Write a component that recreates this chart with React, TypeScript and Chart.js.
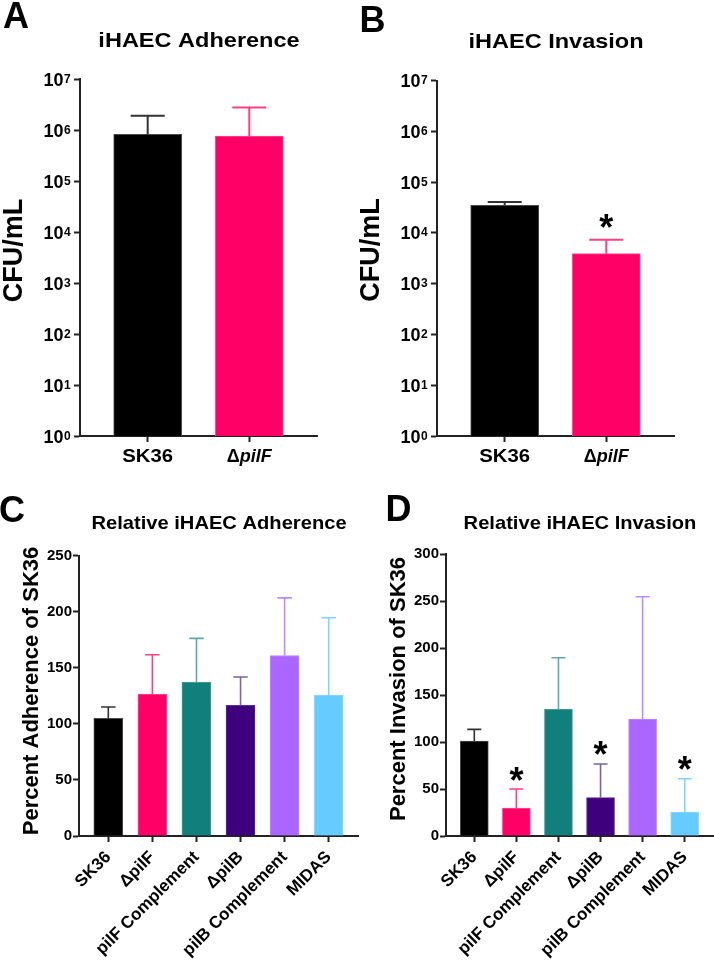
import React, { useEffect, useRef } from 'react';
import { Chart, registerables } from 'chart.js';

Chart.register(...registerables);

const FONT = '"Liberation Sans", Arial, Helvetica, sans-serif';
const AXIS = '#222222';

// ---------- Panels A / B (CFU/mL, log scale) ----------
const strainsAB = ['SK36', 'ΔpilF'];
const adherenceCFU = [8.2e5, 7.6e5];
const adherenceCFUSD = [1.08e6, 1.99e6];
const adherenceCFUStars = [false, false];
const invasionCFU = [3.5e4, 3.9e3];
const invasionCFUSD = [5.5e3, 3.4e3];
const invasionCFUStars = [false, true];
const logTickValues = [1, 10, 100, 1e3, 1e4, 1e5, 1e6, 1e7];

// ---------- Panels C / D (percent of SK36) ----------
const strainsCD = ['SK36', 'ΔpilF', 'pilF Complement', 'ΔpilB', 'pilB Complement', 'MIDAS'];
const relAdherence = [105, 126.6, 137, 116.5, 161, 125.7];
const relAdherenceSD = [10, 35, 39.3, 25.3, 51.4, 69];
const relAdherenceStars = [false, false, false, false, false, false];
const relInvasion = [101.2, 29.8, 134.9, 40.8, 124.6, 25.6];
const relInvasionSD = [12.4, 20.2, 55, 35.9, 130.2, 35.4];
const relInvasionStars = [false, true, false, true, false, true];
const adherenceTicks = [0, 50, 100, 150, 200, 250];
const invasionTicks = [0, 50, 100, 150, 200, 250, 300];

const barColors = ['#000000', '#ff0066', '#117f7b', '#3f007d', '#aa66ff', '#66ccff'];
const barBorders = ['#4a4a4a', '#ff4d8f', '#3d9a96', '#5c2d99', '#bb88ff', '#8ad8ff'];
const errColors = ['#333333', '#ff3d85', '#5fa9a6', '#7a62a6', '#b98cff', '#7fd3ff'];

type Spec = {
  log: boolean;
  cats: string[];
  values: number[];
  sds: number[];
  stars: boolean[];
  yMin: number;
  yMax: number;
  yTicks: number[];
  xMin: number;
  xMax: number;
  barThickness: number;
  errWidth: number;
  starGap: number;
  pos: { left: number; top: number; width: number; height: number };
  area: { left: number; top: number; right: number; bottom: number };
  letter: { text: string; x: number; y: number };
  title: { text: string; x: number; y: number; size: number; sx: number };
  yTitle: { text: string; x: number; y: number; size: number };
};

function drawText(
  ctx: CanvasRenderingContext2D,
  text: string,
  x: number,
  y: number,
  font: string,
  align: CanvasTextAlign,
  sx = 1,
  rot = 0,
  baseline: CanvasTextBaseline = 'alphabetic'
) {
  ctx.save();
  ctx.translate(x, y);
  if (rot) ctx.rotate(rot);
  ctx.scale(sx, 1);
  ctx.font = font;
  ctx.textAlign = align;
  ctx.textBaseline = baseline;
  ctx.fillStyle = '#000';
  ctx.fillText(text, 0, 0);
  ctx.restore();
}

function makeDecor(s: Spec) {
  return {
    id: 'decor' + s.letter.text,
    afterDatasetsDraw(chart: any) {
      const ctx: CanvasRenderingContext2D = chart.ctx;
      const xs = chart.scales.x;
      const ys = chart.scales.y;
      s.values.forEach((v, i) => {
        const x = xs.getPixelForValue(i);
        const yTop = ys.getPixelForValue(v);
        const yCap = ys.getPixelForValue(v + s.sds[i]);
        const half = s.barThickness / 4;
        ctx.save();
        ctx.strokeStyle = errColors[i];
        ctx.lineWidth = s.errWidth;
        ctx.beginPath();
        ctx.moveTo(x, yTop);
        ctx.lineTo(x, yCap);
        ctx.moveTo(x - half, yCap);
        ctx.lineTo(x + half, yCap);
        ctx.stroke();
        ctx.restore();
        if (s.stars[i]) {
          ctx.save();
          ctx.font = `bold 36px ${FONT}`;
          ctx.fillStyle = '#000';
          ctx.textAlign = 'left';
          ctx.textBaseline = 'alphabetic';
          const m = ctx.measureText('*');
          const cy = yCap - s.starGap;
          const base = cy + (m.actualBoundingBoxAscent - m.actualBoundingBoxDescent) / 2;
          const gx = x - (m.actualBoundingBoxRight - m.actualBoundingBoxLeft) / 2;
          ctx.fillText('*', gx, base);
          ctx.restore();
        }
      });
    },
    afterDraw(chart: any) {
      const ctx: CanvasRenderingContext2D = chart.ctx;
      const xs = chart.scales.x;
      const ys = chart.scales.y;
      const ca = chart.chartArea;
      // panel letter
      drawText(ctx, s.letter.text, s.letter.x, s.letter.y, `bold 36px ${FONT}`, 'left');
      // title
      drawText(ctx, s.title.text, s.title.x, s.title.y, `bold ${s.title.size}px ${FONT}`, 'center', s.title.sx);
      // y title
      drawText(ctx, s.yTitle.text, s.yTitle.x, s.yTitle.y, `bold ${s.yTitle.size}px ${FONT}`, 'center', 1, -Math.PI / 2);
      if (s.log) {
        // 10^n tick labels
        s.yTicks.forEach((v) => {
          const y = ys.getPixelForValue(v);
          const e = Math.round(Math.log10(v));
          drawText(ctx, '10', ca.left - 16.5, y + 6.5, `bold 18px ${FONT}`, 'right');
          drawText(ctx, String(e), ca.left - 16, y + 3.5, `bold 12px ${FONT}`, 'left');
        });
        // category labels with italic gene name
        s.cats.forEach((c, i) => {
          const x = xs.getPixelForValue(i);
          const y = ca.bottom + 25.7;
          if (c.startsWith('Δ')) {
            const f1 = `bold 18px ${FONT}`;
            const f2 = `italic bold 18px ${FONT}`;
            ctx.save();
            ctx.font = f1;
            const w1 = ctx.measureText('Δ').width;
            ctx.font = f2;
            const w2 = ctx.measureText(c.slice(1)).width;
            ctx.restore();
            const x0 = x - (w1 + w2) / 2;
            drawText(ctx, 'Δ', x0, y, f1, 'left');
            drawText(ctx, c.slice(1), x0 + w1, y, f2, 'left');
          } else {
            drawText(ctx, c, x, y, `bold 19px ${FONT}`, 'center', 1.07);
          }
        });
      } else {
        // rotated category labels
        s.cats.forEach((c, i) => {
          const x = xs.getPixelForValue(i);
          drawText(ctx, c, x, ca.bottom + 18.5, `bold 17px ${FONT}`, 'right', 1, -Math.PI / 4, 'middle');
        });
      }
    },
  };
}

function buildConfig(s: Spec): any {
  const n = s.values.length;
  const gridOpts = {
    display: true,
    drawOnChartArea: false,
    drawTicks: true,
    tickLength: 6,
    tickWidth: 2,
    tickColor: AXIS,
    color: AXIS,
    offset: false,
  };
  const border = { display: true, color: AXIS, width: 2 };
  const yScale: any = s.log
    ? {
        type: 'logarithmic',
        min: s.yMin,
        max: s.yMax,
        grid: gridOpts,
        border,
        ticks: { display: false },
        afterBuildTicks: (sc: any) => {
          sc.ticks = s.yTicks.map((v) => ({ value: v }));
        },
        afterFit: (sc: any) => {
          sc.width = s.area.left;
        },
      }
    : {
        type: 'linear',
        min: s.yMin,
        max: s.yMax,
        grid: gridOpts,
        border,
        ticks: {
          display: true,
          color: '#000',
          padding: 1,
          font: { family: FONT, size: 15, weight: 'bold' },
        },
        afterBuildTicks: (sc: any) => {
          sc.ticks = s.yTicks.map((v) => ({ value: v }));
        },
        afterFit: (sc: any) => {
          sc.width = s.area.left;
        },
      };
  const xScale: any = {
    type: 'linear',
    min: s.xMin,
    max: s.xMax,
    bounds: 'data',
    offset: false,
    grid: gridOpts,
    border,
    ticks: { display: false },
    afterBuildTicks: (sc: any) => {
      sc.ticks = s.cats.map((_c, i) => ({ value: i }));
    },
    afterFit: (sc: any) => {
      sc.height = s.pos.height - s.area.bottom;
    },
  };
  return {
    type: 'bar',
    data: {
      datasets: [
        {
          data: s.values.map((v, i) => ({ x: i, y: v })),
          backgroundColor: barColors.slice(0, n),
          borderColor: barBorders.slice(0, n),
          borderWidth: 1,
          barThickness: s.barThickness,
        },
      ],
    },
    options: {
      animation: false,
      responsive: false,
      maintainAspectRatio: false,
      devicePixelRatio: 1,
      layout: {
        padding: { left: 0, top: s.area.top, right: s.pos.width - s.area.right, bottom: 0 },
      },
      plugins: { legend: { display: false }, tooltip: { enabled: false }, title: { display: false } },
      scales: { x: xScale, y: yScale },
    },
    plugins: [makeDecor(s)],
  };
}

const specA: Spec = {
  log: true,
  cats: strainsAB,
  values: adherenceCFU,
  sds: adherenceCFUSD,
  stars: adherenceCFUStars,
  yMin: 1,
  yMax: 1e7,
  yTicks: logTickValues,
  xMin: -0.666,
  xMax: 1.666,
  barThickness: 68,
  errWidth: 2,
  starGap: 18,
  pos: { left: 0, top: 0, width: 357, height: 480 },
  area: { left: 80, top: 79, right: 317, bottom: 436 },
  letter: { text: 'A', x: 3, y: 28.3 },
  title: { text: 'iHAEC Adherence', x: 199, y: 46.7, size: 21, sx: 1.12 },
  yTitle: { text: 'CFU/mL', x: 22, y: 250.5, size: 27 },
};

const specB: Spec = {
  log: true,
  cats: strainsAB,
  values: invasionCFU,
  sds: invasionCFUSD,
  stars: invasionCFUStars,
  yMin: 1,
  yMax: 1e7,
  yTicks: logTickValues,
  xMin: -0.666,
  xMax: 1.666,
  barThickness: 68,
  errWidth: 2,
  starGap: 18.5,
  pos: { left: 357, top: 0, width: 357, height: 480 },
  area: { left: 80, top: 80.5, right: 317, bottom: 436 },
  letter: { text: 'B', x: 2.5, y: 31.7 },
  title: { text: 'iHAEC Invasion', x: 199, y: 48.3, size: 21, sx: 1.12 },
  yTitle: { text: 'CFU/mL', x: 22, y: 250, size: 27 },
};

const specC: Spec = {
  log: false,
  cats: strainsCD,
  values: relAdherence,
  sds: relAdherenceSD,
  stars: relAdherenceStars,
  yMin: 0,
  yMax: 250,
  yTicks: adherenceTicks,
  xMin: -0.665,
  xMax: 5.665,
  barThickness: 29,
  errWidth: 1.6,
  starGap: 16,
  pos: { left: 0, top: 480, width: 380, height: 482 },
  area: { left: 79, top: 75.7, right: 358, bottom: 356 },
  letter: { text: 'C', x: -1, y: 41.5 },
  title: { text: 'Relative iHAEC Adherence', x: 219, y: 49, size: 19, sx: 1.06 },
  yTitle: { text: 'Percent Adherence of SK36', x: 37.5, y: 211, size: 22 },
};

const specD: Spec = {
  log: false,
  cats: strainsCD,
  values: relInvasion,
  sds: relInvasionSD,
  stars: relInvasionStars,
  yMin: 0,
  yMax: 300,
  yTicks: invasionTicks,
  xMin: -0.6725,
  xMax: 5.6725,
  barThickness: 28,
  errWidth: 1.6,
  starGap: 15.5,
  pos: { left: 380, top: 480, width: 334, height: 482 },
  area: { left: 66, top: 74.3, right: 333, bottom: 356 },
  letter: { text: 'D', x: 5.5, y: 40.5 },
  title: { text: 'Relative iHAEC Invasion', x: 200, y: 49, size: 19, sx: 1.06 },
  yTitle: { text: 'Percent Invasion of SK36', x: 24.5, y: 209, size: 22 },
};

function Panel({ spec }: { spec: Spec }) {
  const ref = useRef<HTMLCanvasElement | null>(null);
  useEffect(() => {
    if (!ref.current) return;
    const chart = new Chart(ref.current, buildConfig(spec));
    return () => chart.destroy();
  }, [spec]);
  return (
    <canvas
      ref={ref}
      width={spec.pos.width}
      height={spec.pos.height}
      style={{
        position: 'absolute',
        left: spec.pos.left,
        top: spec.pos.top,
        width: spec.pos.width,
        height: spec.pos.height,
      }}
    />
  );
}

export default function App() {
  return (
    <div
      style={{
        position: 'absolute',
        left: 0,
        top: 0,
        width: 714,
        height: 962,
        background: '#ffffff',
        overflow: 'hidden',
      }}
    >
      <Panel spec={specA} />
      <Panel spec={specB} />
      <Panel spec={specC} />
      <Panel spec={specD} />
    </div>
  );
}
